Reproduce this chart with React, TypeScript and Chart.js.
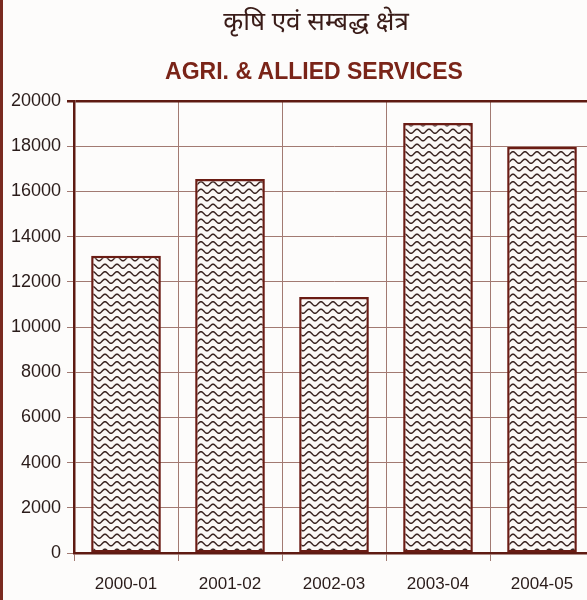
import React, { useEffect, useRef } from "react";
import { Chart, registerables } from "chart.js";

Chart.register(...registerables);

const categories = ["2000-01", "2001-02", "2002-03", "2003-04", "2004-05"];
const values = [13150, 16550, 11330, 19030, 17960];
const yMin = 0;
const yMax = 20000;
const yStep = 2000;
const titleHindi = "कृषि एवं सम्बद्ध क्षेत्र";
const titleEnglish = "AGRI. & ALLIED SERVICES";

function makeWave(): CanvasPattern | string {
  const c = document.createElement("canvas");
  c.width = 12;
  c.height = 15;
  const ctx = c.getContext("2d");
  if (!ctx) return "#ffffff";
  ctx.fillStyle = "#fbf8f6";
  ctx.fillRect(0, 0, 12, 15);
  ctx.strokeStyle = "#3b2522";
  ctx.lineWidth = 1.5;
  for (const y0 of [3.75, 11.25]) {
    ctx.beginPath();
    for (let x = -1; x <= 13; x += 0.5) {
      const y = y0 + 2 * Math.sin((x / 12) * 2 * Math.PI);
      if (x === -1) ctx.moveTo(x, y);
      else ctx.lineTo(x, y);
    }
    ctx.stroke();
  }
  return ctx.createPattern(c, "repeat") || "#ffffff";
}

export default function App() {
  const ref = useRef<HTMLCanvasElement>(null);

  useEffect(() => {
    document.body.style.margin = "0";
    document.body.style.overflow = "hidden";
    const canvas = ref.current;
    if (!canvas) return;
    const family = "'Liberation Sans', Arial, sans-serif";
    const chart = new Chart(canvas, {
      type: "bar",
      data: {
        labels: categories,
        datasets: [
          {
            data: values,
            backgroundColor: makeWave(),
            borderColor: "#6a1c14",
            borderWidth: 2.5,
            borderSkipped: false,
            categoryPercentage: 1,
            barPercentage: 0.67,
          },
        ],
      },
      options: {
        responsive: false,
        animation: false,
        devicePixelRatio: 1,
        layout: { padding: { top: 101, right: 6, bottom: 0, left: 0 } },
        plugins: {
          legend: { display: false },
          title: { display: false },
          tooltip: { enabled: false },
        },
        scales: {
          x: {
            grid: {
              display: true,
              color: "#a27a72",
              lineWidth: 1,
              tickLength: 8,
              offset: true,
            },
            border: { display: true, color: "#5e1a12", width: 2.5 },
            ticks: { color: "#2a1c1a", font: { family, size: 17 }, padding: 13, maxRotation: 0 },
            afterFit: (scale: any) => {
              scale.height = 47;
            },
          },
          y: {
            min: yMin,
            max: yMax,
            grid: {
              color: (ctx: any) => (ctx.tick && ctx.tick.value === yMax ? "#5e1a12" : "#a27a72"),
              lineWidth: (ctx: any) => (ctx.tick && ctx.tick.value === yMax ? 2.5 : 1),
              tickLength: 7,
            },
            border: { display: true, color: "#5e1a12", width: 2.5 },
            ticks: {
              stepSize: yStep,
              color: "#2a1c1a",
              font: { family, size: 18 },
              padding: 6,
              callback: (v: any) => String(v),
            },
            afterFit: (scale: any) => {
              scale.width = 74;
            },
          },
        },
      },
    });
    return () => chart.destroy();
  }, []);

  return (
    <div
      style={{
        position: "fixed",
        left: 0,
        top: 0,
        width: 600,
        height: 600,
        background: "#fdfcfb",
        overflow: "hidden",
      }}
    >
      <canvas ref={ref} width={600} height={600} style={{ position: "absolute", left: 0, top: 0 }} />
      <div style={{ position: "absolute", left: 0, top: 0, width: 3, height: 600, background: "#7a2a20" }} />
      <div
        style={{
          position: "absolute",
          left: 0,
          top: 5,
          width: 632,
          textAlign: "center",
          fontFamily: "'Noto Sans Devanagari', 'Lohit Devanagari', 'Noto Sans', sans-serif",
          fontSize: 26,
          color: "#3a1c18",
          lineHeight: "38px",
        }}
      >
        {titleHindi}
      </div>
      <div
        style={{
          position: "absolute",
          left: 0,
          top: 55,
          width: 628,
          textAlign: "center",
          fontFamily: "'Liberation Sans', Arial, sans-serif",
          fontWeight: "bold",
          fontSize: 23,
          color: "#7a2418",
          lineHeight: "32px",
        }}
      >
        {titleEnglish}
      </div>
    </div>
  );
}
